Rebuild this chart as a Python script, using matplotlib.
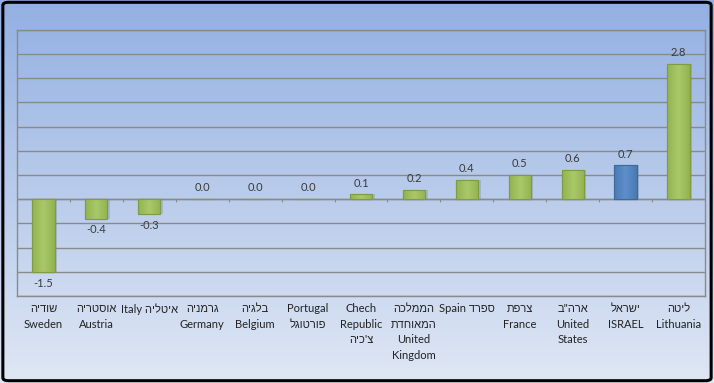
import re
import numpy as np
import matplotlib
matplotlib.use("Agg")
import matplotlib.pyplot as plt
from matplotlib.patches import FancyBboxPatch
from matplotlib.colors import LinearSegmentedColormap

plt.rcParams['font.family'] = ['Lato', 'Liberation Sans', 'DejaVu Sans']

# data (logical order for hebrew)
labels = ["שודיה\nSweden", "אוסטריה\nAustria", "איטליה Italy", "גרמניה\nGermany",
          "בלגיה\nBelgium", "Portugal\nפורטוגל", "Chech\nRepublic\nצ'כיה",
          "הממלכה\nהמאוחדת\nUnited\nKingdom", "ספרד Spain", "צרפת\nFrance",
          'ארה"ב\nUnited\nStates', "ישראל\nISRAEL", "ליטה\nLithuania"]
values = [-1.5, -0.4, -0.3, 0.0, 0.0, 0.0, 0.1, 0.2, 0.4, 0.5, 0.6, 0.7, 2.8]
highlight = "ISRAEL"


def vis(line):
    # matplotlib has no bidi -> put hebrew lines into visual order
    if not re.search('[\u0590-\u05FF]', line):
        return line
    r = line[::-1]
    return re.sub(r'[A-Za-z0-9.]+', lambda m: m.group(0)[::-1], r)


tick_labels = ["\n".join(vis(l) for l in s.split("\n")) for s in labels]

fig = plt.figure(figsize=(7.14, 3.83), dpi=100)

# background gradient
bg = fig.add_axes([0, 0, 1, 1], zorder=-10)
grad = np.linspace(0, 1, 256).reshape(-1, 1)
cmap = LinearSegmentedColormap.from_list("bg", ["#93b0e2", "#dfe7f4"])
bg.imshow(grad, aspect="auto", cmap=cmap, extent=[0, 1, 0, 1], origin="upper")
bg.set_xlim(0, 1)
bg.set_ylim(0, 1)
bg.axis("off")
bg.add_patch(FancyBboxPatch((0.004, 0.006), 0.992, 0.988, boxstyle="round,pad=0,rounding_size=0.008",
                            transform=bg.transAxes, fill=False, edgecolor="#000000", linewidth=2.2))

ax = fig.add_axes([0.0238, 0.227, 0.9635, 0.695])
ax.patch.set_alpha(0)

x = np.arange(len(values))
is_hl = [highlight in l for l in labels]
colors = ["#4f81bd" if h else "#9bbb59" for h in is_hl]
edges = ["#3d6a9e" if h else "#7f9c45" for h in is_hl]
ax.bar(x + 0.05, values, width=0.42, color="#6d7f96", alpha=0.3, zorder=2)
bars = ax.bar(x, values, width=0.42, color=colors, edgecolor=edges, linewidth=0.8, zorder=3)

# soft horizontal shading inside bars
hgrad = np.concatenate([np.linspace(0, 1, 32), np.linspace(1, 0, 32)]).reshape(1, -1)
for b, h, v in zip(bars, is_hl, values):
    if v == 0:
        continue
    cm = LinearSegmentedColormap.from_list(
        "b", ["#4a7ab3", "#5d8fcc"] if h else ["#93b24f", "#a9c868"])
    x0 = b.get_x()
    im = ax.imshow(hgrad, aspect="auto", cmap=cm, zorder=3.5,
                   extent=[x0, x0 + b.get_width(), min(0, v), max(0, v)])
    im.set_clip_path(b)
    ax.bar(b.get_x() + b.get_width() / 2, v, width=b.get_width(), fill=False,
           edgecolor=b.get_edgecolor(), linewidth=0.8, zorder=4)

for xi, v in zip(x, values):
    if v < 0:
        ax.text(xi, v - 0.12, f"{v:.1f}", ha="center", va="top", fontsize=8, color="#3a3a3a")
    else:
        ax.text(xi, v + 0.12, f"{v:.1f}", ha="center", va="bottom", fontsize=8, color="#3a3a3a")

ax.set_xlim(-0.5, len(values) - 0.5)
ax.set_ylim(-2.0, 3.5)
ax.set_yticks(np.arange(-2.0, 3.51, 0.5))
ax.yaxis.grid(True, color="#8a8a8a", linewidth=1.0, zorder=0)
ax.set_axisbelow(True)
ax.tick_params(axis="y", length=0, labelleft=False)
ax.axhline(0, color="#8a8a8a", linewidth=1.0, zorder=1)
ax.vlines(x[:-1] + 0.5, -0.06, 0, color="#8a8a8a", linewidth=0.8, zorder=1)

ax.set_xticks(x)
ax.set_xticklabels(tick_labels, fontsize=8, color="#222222", linespacing=1.5, va="top")
ax.tick_params(axis="x", length=0, pad=5)

for s in ax.spines.values():
    s.set_color("#8a8a8a")
    s.set_linewidth(1.0)

fig.savefig("out.png", dpi=100)
